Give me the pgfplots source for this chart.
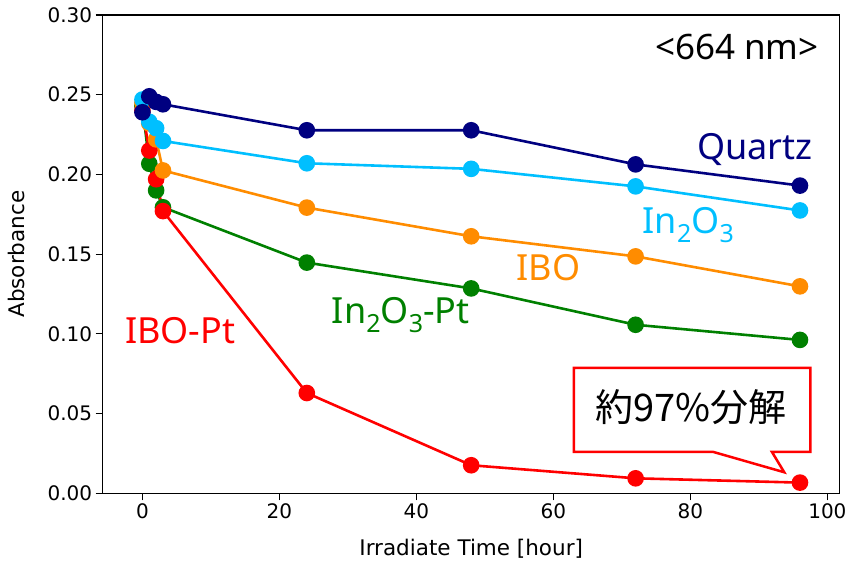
\documentclass[border=0pt]{standalone}
\usepackage{fontspec}
\usepackage{pgfplots}
\pgfplotsset{compat=1.18}
\setmainfont{DejaVu Sans}
\newfontfamily\lab{Noto Sans}
\newfontfamily\cjk{Noto Sans CJK JP}
\definecolor{cQuartz}{HTML}{000080}
\definecolor{cIn}{HTML}{00BFFF}
\definecolor{cIBO}{HTML}{FF8C00}
\definecolor{cInPt}{HTML}{008000}
\definecolor{cIBOPt}{HTML}{FF0000}
\newcommand\sub[1]{\raisebox{-0.24em}{\fontsize{25bp}{25bp}\selectfont #1}}
\newcommand\labfont{\lab\fontsize{36bp}{40bp}\selectfont}

\begin{document}
\begin{tikzpicture}
\path[use as bounding box] (0,0) rectangle (856bp,563bp);
\begin{axis}[
  at={(102.7bp,69.7bp)}, anchor=south west,
  width=737bp, height=478.3bp, scale only axis,
  xmin=-5.8, xmax=101.8, ymin=0, ymax=0.30,
  xtick={0,20,40,60,80,100},
  ytick={0,0.05,0.10,0.15,0.20,0.25,0.30},
  yticklabel style={/pgf/number format/.cd,fixed,fixed zerofill,precision=2},
  /pgf/number format/assume math mode=true,
  tick label style={font=\fontsize{20bp}{24bp}\selectfont},
  label style={font=\fontsize{21.5bp}{26bp}\selectfont},
  xlabel={Irradiate Time [hour]},
  ylabel={Absorbance},
  xlabel style={at={(axis description cs:0.5,-0.129)}, anchor=base},
  ylabel style={at={(axis description cs:-0.1163,0.5)}, anchor=center},
  tick align=outside, xtick pos=bottom, ytick pos=left,
  major tick length=7bp,
  axis line style={line width=1.2bp},
  every tick/.style={black, line width=1.2bp},
  every axis plot/.append style={line width=2.6bp, mark=*, mark size=7bp},
]
\addplot[color=cInPt] coordinates {
  (0,0.243) (1,0.2067) (2,0.190) (3,0.1794) (24,0.1447) (48,0.1285) (72,0.1057) (96,0.0962)
};
\addplot[color=cIBOPt] coordinates {
  (0,0.240) (1,0.215) (2,0.197) (3,0.177) (24,0.0629) (48,0.0176) (72,0.0094) (96,0.0067)
};
\addplot[color=cIBO] coordinates {
  (0,0.245) (1,0.232) (2,0.222) (3,0.2025) (24,0.1792) (48,0.1612) (72,0.1486) (96,0.1298)
};
\addplot[color=cIn] coordinates {
  (0,0.247) (1,0.233) (2,0.229) (3,0.221) (24,0.207) (48,0.2035) (72,0.1925) (96,0.1774)
};
\addplot[color=cQuartz] coordinates {
  (0,0.239) (1,0.249) (2,0.2455) (3,0.244) (24,0.2277) (48,0.2277) (72,0.2063) (96,0.193)
};

\node[font=\lab\fontsize{35bp}{40bp}\selectfont, anchor=center] at (axis cs:86.8,0.2799) {<664 nm>};
\node[text=cQuartz, font=\labfont, anchor=base, inner sep=0pt] at (axis cs:89.4,0.2094) {Quartz};
\node[text=cIn, font=\labfont, anchor=base, inner sep=0pt] at (axis cs:79.7,0.1629) {In\sub{2}O\sub{3}};
\node[text=cIBO, font=\labfont, anchor=base, inner sep=0pt] at (axis cs:59.3,0.1333) {IBO};
\node[text=cInPt, font=\labfont, anchor=base, inner sep=0pt] at (axis cs:37.7,0.1063) {In\sub{2}O\sub{3}-Pt};
\node[text=cIBOPt, font=\labfont, anchor=base, inner sep=0pt] at (axis cs:5.5,0.0937) {IBO-Pt};

\draw[cIBOPt, line width=2.5bp, fill=white, line join=miter]
  (axis cs:63.0,0.0786) -- (axis cs:97.5,0.0786) -- (axis cs:97.5,0.0260)
  -- (axis cs:91.9,0.0260) -- (axis cs:93.7,0.0132) -- (axis cs:83.3,0.0260)
  -- (axis cs:63.0,0.0260) -- cycle;
\node[font=\cjk\fontsize{38bp}{44bp}\selectfont, anchor=center] at (axis cs:80.1,0.0538) {約97\%分解};
\end{axis}
\end{tikzpicture}
\end{document}
